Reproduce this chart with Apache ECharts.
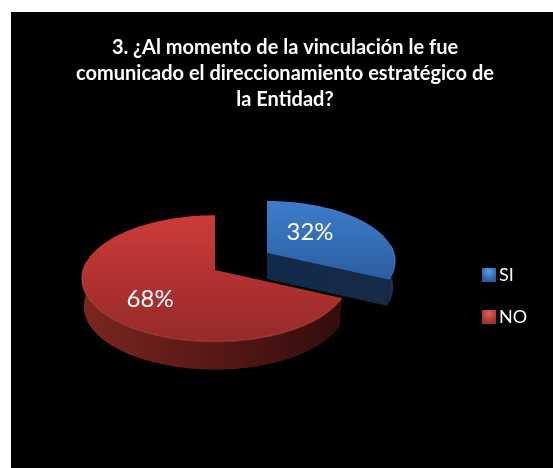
<!DOCTYPE html>
<html>
<head>
<meta charset="utf-8">
<style>html,body{margin:0;background:#fff}#chart{width:553px;height:468px}</style>
<script src="https://cdn.jsdelivr.net/npm/echarts@6/dist/echarts.min.js"></script>
</head>
<body>
<div id="chart"></div>
<script>
// 数据
var categories = ['SI', 'NO'];
var percents = [32, 68];
var titleLines = [
    '3. ¿Al momento de la vinculación le fue',
    'comunicado el direccionamiento estratégico de',
    'la Entidad?'
];

// 每块的位置和颜色
var sliceStyle = [{
    cx: 267, cy: 253, rx: 127, ry: 59, depth: 26, labelX: 0.43, labelY: 0.7,
    top: ['#3E7CCB', '#2A5F9F'], wall: ['#14294A', '#1A3557'], cut: ['#13294A', '#152B47'],
    rim: 'rgba(120,170,230,0.3)', legend: ['#5E9BE6', '#2A5E9F']
}, {
    cx: 215, cy: 270, rx: 132, ry: 62, depth: 28, labelX: 0.54, labelY: 0.83,
    top: ['#CC3B37', '#96292A'], wall: ['#7C2520', '#330C0B'], cut: ['#3A0F0C', '#3A0F0C'],
    rim: 'rgba(225,110,100,0.3)', legend: ['#E0605A', '#A23330']
}];

// 假三维的参数
var persp = 0.134, bottomScale = 0.985;

var project = function (s, deg) {
    var a = deg * Math.PI / 180;
    var k = 1 / (1 + persp * Math.cos(a));
    return [s.cx + s.rx * Math.sin(a) * k, s.cy - s.ry * Math.cos(a) * k];
};

var lower = function (s, p) {
    return [s.cx + (p[0] - s.cx) * bottomScale, p[1] + s.depth];
};

var arc = function (s, from, to) {
    var pts = [], n = Math.max(2, Math.ceil(Math.abs(to - from) / 2)), i;
    for (i = 0; i <= n; i++) pts.push(project(s, from + (to - from) * i / n));
    return pts;
};

var grad = function (c, horizontal) {
    return new echarts.graphic.LinearGradient(0, 0, horizontal ? 1 : 0, horizontal ? 0 : 1, [
        { offset: 0, color: c[0] }, { offset: 1, color: c[1] }
    ]);
};

// 画一块饼
var renderSlice = function (index) {
    return function () {
        var s = sliceStyle[index], sum = 0, i;
        for (i = 0; i < index; i++) sum += percents[i];
        var start = sum * 3.6, end = (sum + percents[index]) * 3.6;
        var children = [];

        // 外壁，只有朝向观察者的部分
        var from = Math.max(start, 82), to = Math.min(end, 278);
        if (to > from) {
            var rim = arc(s, from, to);
            children.push({
                type: 'polygon',
                shape: { points: rim.concat(rim.map(function (p) { return lower(s, p); }).reverse()) },
                style: { fill: grad(s.wall, true) }
            });
        }

        // 切面（结束角朝下时可见）
        if (end < 180) {
            var e = project(s, end), o = [s.cx, s.cy];
            children.push({
                type: 'polygon',
                shape: { points: [o, e, lower(s, e), lower(s, o)] },
                style: { fill: grad(s.cut, true) }
            });
        }

        // 顶面
        children.push({
            type: 'polygon',
            shape: { points: [[s.cx, s.cy]].concat(arc(s, start, end)) },
            style: { fill: grad(s.top) }
        });

        // 边缘高光
        if (to > from) children.push({
            type: 'polyline',
            shape: { points: arc(s, from, to) },
            style: { fill: null, stroke: s.rim, lineWidth: 1.5 }
        });

        // 标签
        var m = project(s, (start + end) / 2);
        children.push({
            type: 'text',
            style: {
                x: s.cx + (m[0] - s.cx) * s.labelX,
                y: s.cy + (m[1] - s.cy) * s.labelY,
                text: percents[index] + '%',
                fill: '#fff',
                font: '24px Lato, "Open Sans", sans-serif',
                align: 'center',
                verticalAlign: 'middle'
            }
        });

        return { type: 'group', children: children };
    };
};

var chart = echarts.init(document.getElementById('chart'), null, { renderer: 'canvas' });

chart.setOption({
    animation: false,
    backgroundColor: '#fff',
    graphic: [{
        type: 'rect', z: -10, silent: true,
        shape: { x: 11, y: 12, width: 542, height: 456 },
        style: { fill: '#000' }
    }],
    title: {
        text: titleLines.join('\n'),
        left: 285, top: 35, textAlign: 'center', padding: 0,
        textStyle: {
            color: '#fff', fontFamily: 'Lato, "Open Sans", sans-serif',
            fontWeight: 'bold', fontSize: 20, lineHeight: 26
        }
    },
    legend: {
        orient: 'vertical', left: 482, top: 266, padding: 0,
        itemWidth: 14, itemHeight: 14, itemGap: 24,
        icon: 'rect', selectedMode: false,
        textStyle: { color: '#fff', fontSize: 18, padding: [0, 0, 0, -2], fontFamily: 'Lato, "Open Sans", sans-serif' },
        data: categories
    },
    series: categories.map(function (name, i) {
        var c = sliceStyle[i].legend;
        return {
            type: 'custom', name: name, coordinateSystem: 'none',
            renderItem: renderSlice(i),
            data: [percents[i]],
            itemStyle: {
                color: new echarts.graphic.RadialGradient(0.5, 0.25, 0.65, [
                    { offset: 0, color: c[0] }, { offset: 1, color: c[1] }
                ])
            },
            z: i === 0 ? 2 : 3
        };
    })
});
</script>
</body>
</html>
